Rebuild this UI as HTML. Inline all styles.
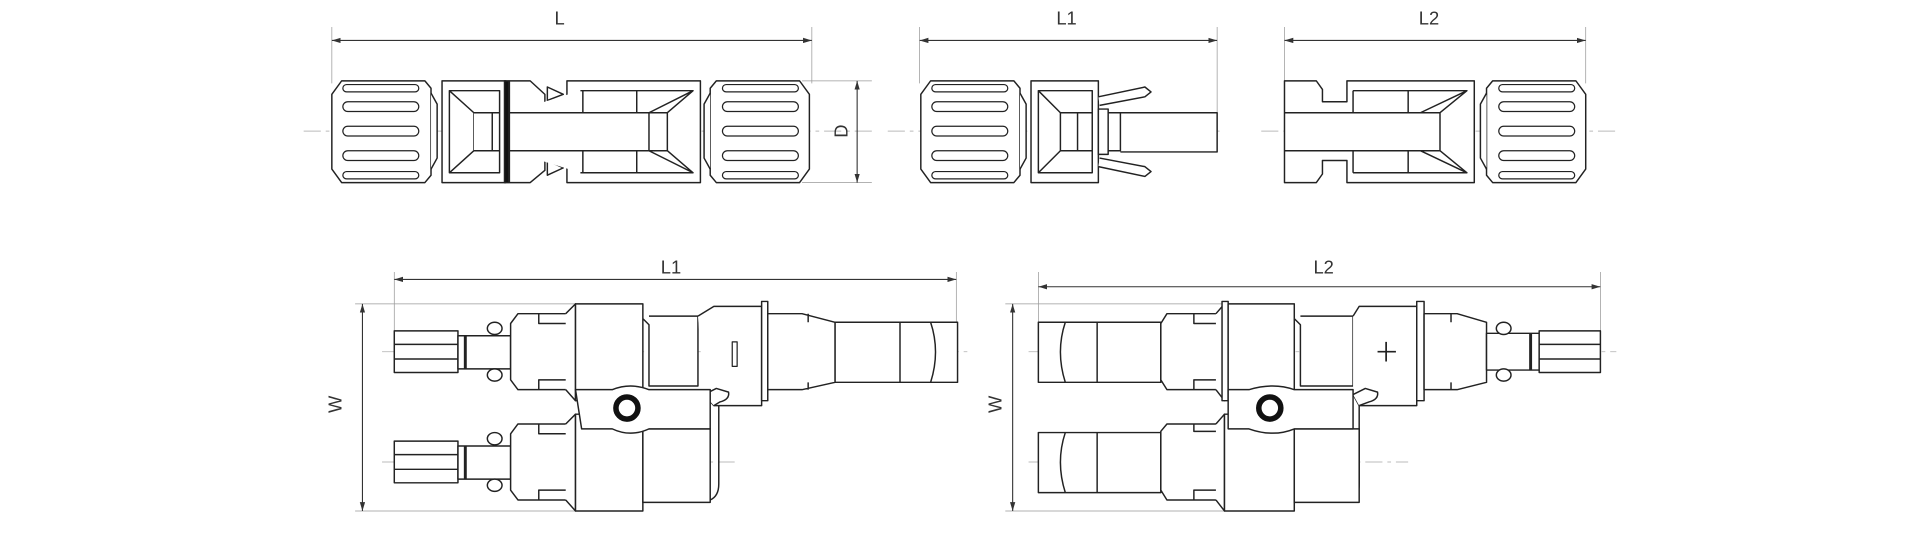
<!DOCTYPE html>
<html><head><meta charset="utf-8"><style>
html,body{margin:0;padding:0;background:#fff;width:1920px;height:560px;overflow:hidden}
svg{display:block}
text{font-family:"Liberation Sans",sans-serif;fill:#333}
</style></head><body>
<svg width="1920" height="560" viewBox="0 0 1568 457" preserveAspectRatio="none" xmlns="http://www.w3.org/2000/svg">
<defs>
<marker id="a" viewBox="0 0 10 6" refX="10" refY="3" markerWidth="8" markerHeight="5" orient="auto-start-reverse"><path d="M0,0L10,3L0,6z" fill="#333"/></marker>
</defs>
<g fill="none" stroke="#999" stroke-width="0.6">
<path d="M271,22V68M663,22V68M751,22V68M994,22V92M1049,22V68M1295,22V68"/>
<path d="M655,66H712M655,149H712"/>
<path d="M322,222V270M781,222V263M848,222V263M1307,222V270"/>
<path d="M290,248H470M290,417H470M821,248H1000M821,417H1000"/>
</g>
<g stroke="#bbb" stroke-width="0.8" stroke-dasharray="14,4,3,4" fill="none">
<path d="M248,107H712M725,107H1000M1030,107H1320"/>
<path d="M312,287H790M312,377H600M840,287H1320M840,377H1150"/>
</g>
<g stroke="#333" stroke-width="0.9" fill="none">
<path d="M271,33H663" marker-start="url(#a)" marker-end="url(#a)"/>
<path d="M751,33H994" marker-start="url(#a)" marker-end="url(#a)"/>
<path d="M1049,33H1295" marker-start="url(#a)" marker-end="url(#a)"/>
<path d="M700,66V149" marker-start="url(#a)" marker-end="url(#a)"/>
<path d="M322,228H781" marker-start="url(#a)" marker-end="url(#a)"/>
<path d="M848,234H1307" marker-start="url(#a)" marker-end="url(#a)"/>
<path d="M296,248V417" marker-start="url(#a)" marker-end="url(#a)"/>
<path d="M827,248V417" marker-start="url(#a)" marker-end="url(#a)"/>
</g>
<g font-size="15">
<text x="457" y="20" text-anchor="middle">L</text>
<text x="871" y="20" text-anchor="middle">L1</text>
<text x="1167" y="20" text-anchor="middle">L2</text>
<text x="548" y="223" text-anchor="middle">L1</text>
<text x="1081" y="223" text-anchor="middle">L2</text>
<text transform="translate(692,107) rotate(-90)" text-anchor="middle">D</text>
<text transform="translate(279,330) rotate(-90)" text-anchor="middle">W</text>
<text transform="translate(818,330) rotate(-90)" text-anchor="middle">W</text>
</g>
<g stroke="#222" stroke-width="1.2" fill="#fff" stroke-linejoin="round">
<g id="nut">
<path d="M279,66H347L352,72V143L347,149H279L271,138V77Z"/>
<g stroke-width="1">
<rect x="280" y="69" width="62" height="6" rx="3"/>
<rect x="280" y="83" width="62" height="8" rx="4"/>
<rect x="280" y="103" width="62" height="8" rx="4"/>
<rect x="280" y="123" width="62" height="8" rx="4"/>
<rect x="280" y="140" width="62" height="6" rx="3"/>
</g>
<path d="M352,76L357,85V129L352,138" />
</g>
<use href="#nut" transform="translate(932,0) scale(-1,1)"/>
<rect x="361" y="66" width="52" height="83"/>
<path d="M367,74H408V141H367Z M367,74L387,92H408 M367,141L387,123H408 M387,92V123"/>
<path d="M387,92H402V123H387"/>
<rect x="412" y="66" width="3.5" height="83" fill="#111"/>
<path d="M416,66H433L445,77V85H463V66H572V149H463V131H445V139L433,149H416Z"/>
<path d="M447,71L460,77L447,82Z M447,131L460,137L447,143Z"/>
<path d="M474,74H566L530,92H416 M474,141H566L530,123H416 M530,92V123 M530,92H545V123H530 M545,92L566,74 M545,123L566,141"/>
<path d="M476,74V92M476,123V141M520,74V92M520,123V141"/>
<use href="#nut" x="481"/>
<rect x="842" y="66" width="55" height="83"/>
<path d="M848,74H892V141H848Z M848,74L866,92H892 M848,141L866,123H892 M866,92V123 M866,92H880V123"/>
<path d="M897,79L935,71L940,75L935,79L898,86 M897,136L935,144L940,140L935,136L898,129"/>
<path d="M897,89H905V126H897Z M905,92H915V123H905 M915,92H994V124H915"/>
<path d="M1049,66H1075L1080,73V83H1100V66H1204V149H1100V131H1080V142L1075,149H1049Z"/>
<path d="M1049,92H1160 M1049,123H1160 M1105,74H1198L1160,92 M1105,141H1198L1160,123 M1160,92H1176V123H1160 M1176,92L1198,74 M1176,123L1198,141"/>
<path d="M1105,74V92M1105,123V141M1150,74V92M1150,123V141"/>
<use href="#nut" transform="translate(1566,0) scale(-1,1)"/>
</g>
<g stroke="#222" stroke-width="1.2" fill="#fff" stroke-linejoin="round">
<path d="M587,315V395Q587,405 580,408"/>
<rect x="322" y="270" width="52" height="34"/>
<path d="M322,281H374M322,293H374"/>
<rect x="374" y="274" width="43" height="27"/>
<path d="M380,274V301" stroke-width="2.4"/>
<ellipse cx="404" cy="268" rx="6" ry="5"/><ellipse cx="404" cy="306" rx="6" ry="5"/>
<path d="M417,264L423,256H473V318H423L417,310Z M440,256V264H473 M440,318V310H473"/>
<path d="M462,256L470,248V327L462,318"/>
<rect x="470" y="248" width="55" height="79"/>
<path d="M525,260L530,265V315H570V258H530"/>
<path d="M570,258L583,250H622V331L583,331L575,322"/>
<path d="M598,279V299H602V279Z" stroke-width="1"/>
<rect x="622" y="246" width="5" height="81"/>
<path d="M627,256H655L682,263V312L655,318H627Z M660,256V263M660,318V312"/>
<rect x="682" y="263" width="100" height="49"/>
<path d="M735,263V312 M760,263Q768,287 760,312"/>
<path d="M575,322L585,317L595,320Q596,326 588,328L583,331"/>
<rect x="322" y="360" width="52" height="34"/>
<path d="M322,371H374M322,383H374"/>
<rect x="374" y="364" width="43" height="27"/>
<path d="M380,364V391" stroke-width="2.4"/>
<ellipse cx="404" cy="358" rx="6" ry="5"/><ellipse cx="404" cy="396" rx="6" ry="5"/>
<path d="M417,354L423,346H473V408H423L417,400Z M440,346V354H473 M440,408V400H473"/>
<path d="M462,346L470,338V417L462,408"/>
<rect x="470" y="338" width="55" height="79"/>
<rect x="525" y="350" width="55" height="60"/>
<path d="M470,318H500Q515,312 530,318H580V350H530Q515,357 500,350H475Z"/>
</g>
<circle cx="512" cy="333" r="9" fill="none" stroke="#111" stroke-width="4.5"/>
<g stroke="#222" stroke-width="1.2" fill="#fff" stroke-linejoin="round">
<path d="M1110,315V395Q1110,405 1103,408"/>
<rect x="848" y="263" width="100" height="49"/>
<path d="M896,263V312 M870,263Q862,287 870,312"/>
<path d="M948,264L953,256H1000V318H953L948,310Z M975,256V264H1000 M975,318V310H1000"/>
<path d="M993,256L1000,248V327L993,318"/>
<rect x="998" y="246" width="5" height="81"/>
<rect x="1003" y="248" width="54" height="79"/>
<path d="M1057,260L1062,265V315H1105V258H1062"/>
<path d="M1105,258L1110,250H1157V331H1110L1105,322"/>
<path d="M1125,287H1140M1132,279V295" stroke-width="1.4"/>
<rect x="1157" y="246" width="6" height="81"/>
<path d="M1163,256H1190L1214,263V312L1190,318H1163Z M1185,256V263M1185,318V312"/>
<rect x="1214" y="272" width="43" height="30"/>
<path d="M1250,272V302" stroke-width="2.4"/>
<ellipse cx="1228" cy="268" rx="6" ry="5"/><ellipse cx="1228" cy="306" rx="6" ry="5"/>
<rect x="1257" y="270" width="50" height="34"/>
<path d="M1257,281H1307M1257,293H1307"/>
<path d="M1105,322L1115,317L1125,320Q1126,326 1118,328L1110,331"/>
<rect x="848" y="353" width="100" height="49"/>
<path d="M896,353V402 M870,353Q862,377 870,402"/>
<path d="M948,352L953,346H1000V408H953L948,400Z M975,346V352H1000 M975,408V400H1000"/>
<path d="M993,346L1000,338V417L993,408"/>
<rect x="1000" y="338" width="57" height="79"/>
<rect x="1057" y="350" width="53" height="60"/>
<path d="M1003,318H1020Q1040,312 1057,318H1105V350H1057Q1040,357 1020,350H1003Z"/>
</g>
<circle cx="1037" cy="333" r="9" fill="none" stroke="#111" stroke-width="4.5"/>
</svg>
</body></html>
